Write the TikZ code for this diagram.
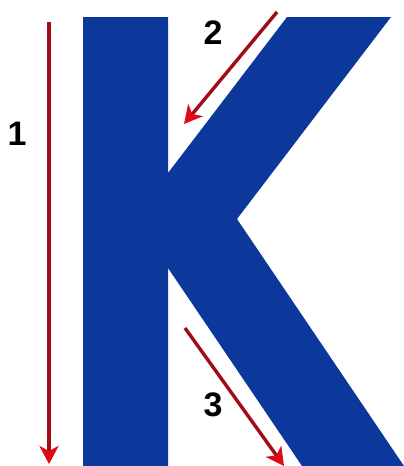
\documentclass[tikz,border=0pt]{standalone}
\usepackage{fontspec}
\setmainfont{Liberation Sans}
\usetikzlibrary{arrows.meta}
\definecolor{kblue}{RGB}{12,56,156}
\definecolor{ashaft}{RGB}{160,12,24}
\definecolor{ahead}{RGB}{225,10,20}
\tikzset{
  redarrow/.style={draw=ashaft, line width=3.4pt,
    -{Stealth[length=18pt,width=19pt,inset=5pt,color=ahead]}},
  numlabel/.style={font=\fontsize{34}{34}\selectfont\bfseries, inner sep=0pt}
}
\begin{document}
\begin{tikzpicture}[x=1pt,y=-1pt]
\useasboundingbox (0,0) rectangle (404,466);
\fill[white] (0,0) rectangle (404,466);
% letter K
\fill[kblue] (83,17) -- (168,17) -- (168,173) -- (287,17) -- (391,17)
  -- (237,219) -- (404,466) -- (302,466) -- (168,268) -- (168,466) -- (83,466) -- cycle;
% arrows
\coordinate (a1s) at (49,22);
\coordinate (a1e) at (49,464);
\coordinate (a2s) at (277,12);
\coordinate (a2e) at (184,124);
\coordinate (a3s) at (185,328);
\coordinate (a3e) at (284,466);
\draw[redarrow] (a1s) -- (a1e);
\draw[redarrow] (a2s) -- (a2e);
\draw[redarrow] (a3s) -- (a3e);
% labels
\node[numlabel] (n1) at (17,134) {1};
\node[numlabel] (n2) at (213,33) {2};
\node[numlabel] (n3) at (213,405) {3};
\end{tikzpicture}
\end{document}
